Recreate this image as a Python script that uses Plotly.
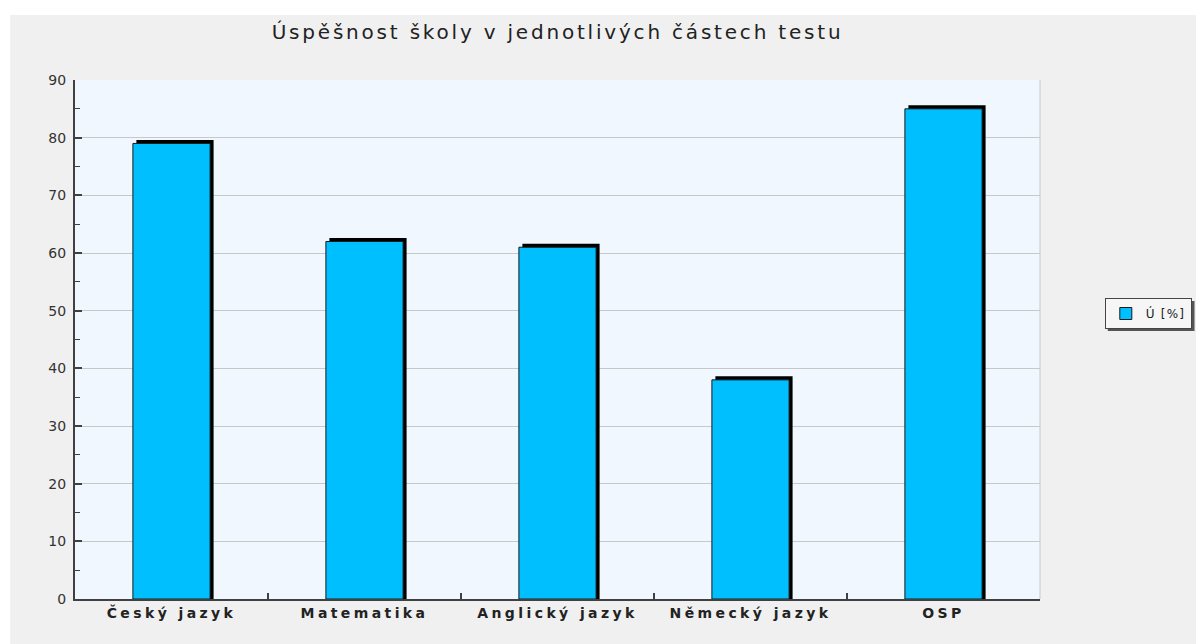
import plotly.graph_objects as go

# ---- data ----
categories = ["Český jazyk", "Matematika", "Anglický jazyk", "Německý jazyk", "OSP"]
values = [79, 62, 61, 38, 85]
series_name = "Ú [%]"
title_text = "Úspěšnost školy v jednotlivých částech testu"
y_ticks = [0, 10, 20, 30, 40, 50, 60, 70, 80, 90]

# ---- layout geometry (pixels) ----
OFF = 8  # page body margin
W, H = 1204 - OFF, 644 - OFF
ML, MR, MT, MB = 75 - OFF, 161, 80 - OFF, 45
PW, PH = W - ML - MR, H - MT - MB
YMAX = 90
BAR_W = 0.4
SH = 3.5  # shadow offset in px

cat_px = PW / len(categories)
sh_x = SH / cat_px
sh_y = SH * YMAX / PH


def px_x(p):  # page pixel -> paper x
    return (p - OFF - ML) / PW


def px_y(p):  # page pixel -> paper y
    return (H - MB - (p - OFF)) / PH


xlabels = ['<span style="letter-spacing:3.4px">%s</span>' % c for c in categories]

fig = go.Figure()
# shadow
fig.add_trace(go.Bar(
    x=categories, y=[v + sh_y for v in values],
    width=BAR_W, offset=-BAR_W / 2 + sh_x,
    marker=dict(color="#000000", line=dict(width=0)),
    showlegend=False, hoverinfo="skip",
))
# main bars
fig.add_trace(go.Bar(
    x=categories, y=values, name='<span style="letter-spacing:1.2px">%s</span>' % series_name,
    width=BAR_W, offset=-BAR_W / 2,
    marker=dict(color="#00bfff", line=dict(color="#1a1a1a", width=1)),
))

shapes = [
    # white bands at top and left of the page
    dict(type="rect", xref="paper", yref="paper", layer="below",
         x0=px_x(0), x1=px_x(1300), y0=px_y(15), y1=px_y(0),
         fillcolor="#ffffff", line=dict(width=0)),
    dict(type="rect", xref="paper", yref="paper", layer="below",
         x0=px_x(0), x1=px_x(10), y0=px_y(700), y1=px_y(0),
         fillcolor="#ffffff", line=dict(width=0)),
    # right border of plot
    dict(type="line", xref="paper", yref="paper", layer="below",
         x0=1, x1=1, y0=0, y1=1, line=dict(color="#c8c8c8", width=1)),
    # legend shadow
    dict(type="rect", xref="paper", yref="paper", layer="below",
         x0=px_x(1111), x1=px_x(1198), y0=px_y(331), y1=px_y(301),
         fillcolor="#555555", line=dict(width=0)),
]

fig.update_layout(
    width=W, height=H,
    margin=dict(l=ML, r=MR, t=MT, b=MB, pad=0),
    paper_bgcolor="#f0f0f0",
    plot_bgcolor="#f0f7fe",
    barmode="overlay",
    font=dict(family="DejaVu Sans", color="#222222"),
    title=dict(
        text='<span style="letter-spacing:2.8px">%s</span>' % title_text,
        x=0.5, xref="paper", xanchor="center",
        y=1 - (32 - OFF) / H, yanchor="middle",
        font=dict(family="DejaVu Sans", size=20, color="#222222"),
    ),
    xaxis=dict(
        type="category",
        tickmode="array", tickvals=categories, ticktext=xlabels,
        tickson="boundaries", ticks="inside", ticklen=6, tickwidth=2,
        tickcolor="#404040",
        showline=True, linecolor="#404040", linewidth=2,
        showgrid=False,
        tickfont=dict(family="DejaVu Sans", size=14, weight="bold", color="#222222"),
        range=[-0.5, len(categories) - 0.5],
        fixedrange=True,
    ),
    yaxis=dict(
        range=[0, YMAX], tickmode="array", tickvals=y_ticks,
        ticks="inside", ticklen=7, tickwidth=2, tickcolor="#404040",
        minor=dict(dtick=5, ticks="inside", ticklen=5, tickwidth=1,
                   tickcolor="#404040", showgrid=False),
        showline=True, linecolor="#404040", linewidth=2,
        showgrid=True, gridcolor="#c8c8c8", gridwidth=1,
        zeroline=False,
        tickfont=dict(family="DejaVu Sans", size=14, color="#333333"),
        ticklabelstandoff=4,
        fixedrange=True,
    ),
    legend=dict(
        x=px_x(1108), y=px_y(298), xanchor="left", yanchor="top",
        bgcolor="#f6f6f6", bordercolor="#444444", borderwidth=1,
        font=dict(family="DejaVu Sans", size=12, color="#222222"),
        itemwidth=30,
    ),
    shapes=shapes,
)

fig.write_html("out.html")
